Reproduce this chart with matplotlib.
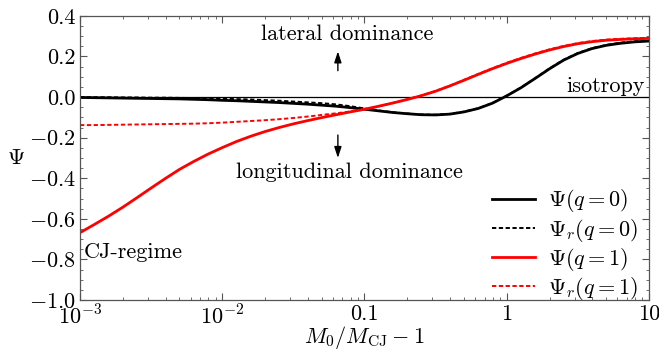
import numpy as np
import matplotlib
matplotlib.use("Agg")
import matplotlib.pyplot as plt
from matplotlib.ticker import FixedLocator, NullFormatter, LogLocator

plt.rcParams['font.family'] = ['cmr10', 'DejaVu Serif']
plt.rcParams['mathtext.fontset'] = 'cm'
plt.rcParams['axes.formatter.use_mathtext'] = True

# log10 of (M0/MCJ - 1), read every 0.1 decade off the curves
log_m = [-3.0, -2.9, -2.8, -2.7, -2.6, -2.5, -2.4, -2.3, -2.2, -2.1,
         -2.0, -1.9, -1.8, -1.7, -1.6, -1.5, -1.4, -1.3, -1.2, -1.1,
         -1.0, -0.9, -0.8, -0.7, -0.6, -0.5, -0.4, -0.3, -0.2, -0.1,
         0.0, 0.1, 0.2, 0.3, 0.4, 0.5, 0.6, 0.7, 0.8, 0.9, 1.0]

psi_q0 = [-0.002, -0.003, -0.004, -0.005, -0.006, -0.007, -0.008, -0.009, -0.011, -0.013,
          -0.016, -0.018, -0.021, -0.024, -0.027, -0.031, -0.035, -0.040, -0.045, -0.052,
          -0.060, -0.068, -0.076, -0.082, -0.087, -0.088, -0.084, -0.073, -0.056, -0.030,
          0.006, 0.046, 0.092, 0.139, 0.182, 0.215, 0.239, 0.255, 0.265, 0.272, 0.276]
psir_q0 = [0.000, -0.001, -0.001, -0.002, -0.002, -0.003, -0.003, -0.004, -0.005, -0.006,
           -0.009, -0.010, -0.012, -0.015, -0.018, -0.022, -0.026, -0.030, -0.036, -0.045,
           -0.056, -0.066, -0.075, -0.081, -0.086, -0.087, -0.083, -0.072, -0.055, -0.029,
           0.007, 0.047, 0.093, 0.141, 0.184, 0.217, 0.241, 0.257, 0.268, 0.275, 0.279]
psi_q1 = [-0.668, -0.628, -0.587, -0.543, -0.496, -0.448, -0.401, -0.356, -0.317, -0.281,
          -0.249, -0.219, -0.193, -0.170, -0.150, -0.132, -0.116, -0.101, -0.087, -0.073,
          -0.060, -0.045, -0.029, -0.012, 0.007, 0.029, 0.055, 0.083, 0.112, 0.140,
          0.166, 0.190, 0.212, 0.232, 0.249, 0.263, 0.273, 0.280, 0.284, 0.287, 0.289]
psir_q1 = [-0.138, -0.138, -0.137, -0.136, -0.135, -0.134, -0.133, -0.132, -0.131, -0.129,
           -0.126, -0.122, -0.118, -0.114, -0.109, -0.103, -0.096, -0.088, -0.080, -0.071,
           -0.061, -0.046, -0.029, -0.011, 0.008, 0.030, 0.056, 0.085, 0.114, 0.142,
           0.169, 0.193, 0.215, 0.235, 0.252, 0.266, 0.276, 0.283, 0.287, 0.290, 0.292]

labels = [r'$\Psi(q=0)$', r'$\Psi_r(q=0)$', r'$\Psi(q=1)$', r'$\Psi_r(q=1)$']

x = 10.0 ** np.array(log_m)

fig = plt.figure(figsize=(6.59, 3.53), dpi=100)
ax = fig.add_axes([0.1214, 0.150, 0.8634, 0.805])

ax.axhline(0.0, color='black', lw=0.9)
ax.plot(x, psi_q0, color='black', lw=2.0, label=labels[0])
ax.plot(x, psir_q0, color='black', lw=1.4, ls=(0, (2.2, 1.3)), label=labels[1])
ax.plot(x, psi_q1, color='red', lw=2.0, label=labels[2])
ax.plot(x, psir_q1, color='red', lw=1.4, ls=(0, (2.2, 1.3)), label=labels[3])

ax.set_xscale('log')
ax.set_xlim(1e-3, 10)
ax.set_ylim(-1.0, 0.4)

ax.set_xticks([1e-3, 1e-2, 0.1, 1, 10])
ax.set_xticklabels([r'$10^{-3}$', r'$10^{-2}$', '0.1', '1', '10'])
ax.xaxis.set_minor_locator(LogLocator(base=10, subs=np.arange(2, 10)))
ax.xaxis.set_minor_formatter(NullFormatter())

yt = [0.4, 0.2, 0.0, -0.2, -0.4, -0.6, -0.8, -1.0]
ax.set_yticks(yt)
ax.set_yticklabels(['0.4', '0.2', '0.0', r'$\mathbf{-}$0.2', r'$\mathbf{-}$0.4',
                    r'$\mathbf{-}$0.6', r'$\mathbf{-}$0.8', r'$\mathbf{-}$1.0'])
ax.yaxis.set_minor_locator(FixedLocator(np.arange(-1.0, 0.41, 0.05)))

ax.tick_params(which='both', direction='in', top=True, right=True, labelsize=16,
               color='#555555')
ax.tick_params(which='major', length=5, width=0.8, pad=3)
ax.tick_params(which='minor', length=2.5, width=0.6)
for s in ax.spines.values():
    s.set_color('#555555')
    s.set_linewidth(0.9)

ax.set_xlabel(r'$M_0/M_{\rm CJ}-1$', fontsize=16, labelpad=-3)
ax.set_ylabel(r'$\Psi$', fontsize=16, rotation=0, labelpad=9, va='center')

ax.text(0.075, 0.31, 'lateral dominance', fontsize=16, ha='center', va='center')
ax.text(0.078, -0.37, 'longitudinal dominance', fontsize=16, ha='center', va='center')
ax.text(9.4, 0.055, 'isotropy', fontsize=16, ha='right', va='center')
ax.text(1.06e-3, -0.765, 'CJ-regime', fontsize=16, ha='left', va='center')
arrow = dict(arrowstyle='-|>,head_length=0.55,head_width=0.18', color='black',
             lw=1.0, mutation_scale=12, shrinkA=0, shrinkB=0)
ax.annotate('', xy=(0.065, 0.225), xytext=(0.065, 0.13), arrowprops=arrow)
ax.annotate('', xy=(0.065, -0.30), xytext=(0.065, -0.187), arrowprops=arrow)

ax.legend(loc='lower right', bbox_to_anchor=(1.0, -0.046), frameon=False, fontsize=16,
          handlelength=1.9, handletextpad=0.6, labelspacing=0.1, borderaxespad=0.1)

fig.savefig('out.png', dpi=100)
